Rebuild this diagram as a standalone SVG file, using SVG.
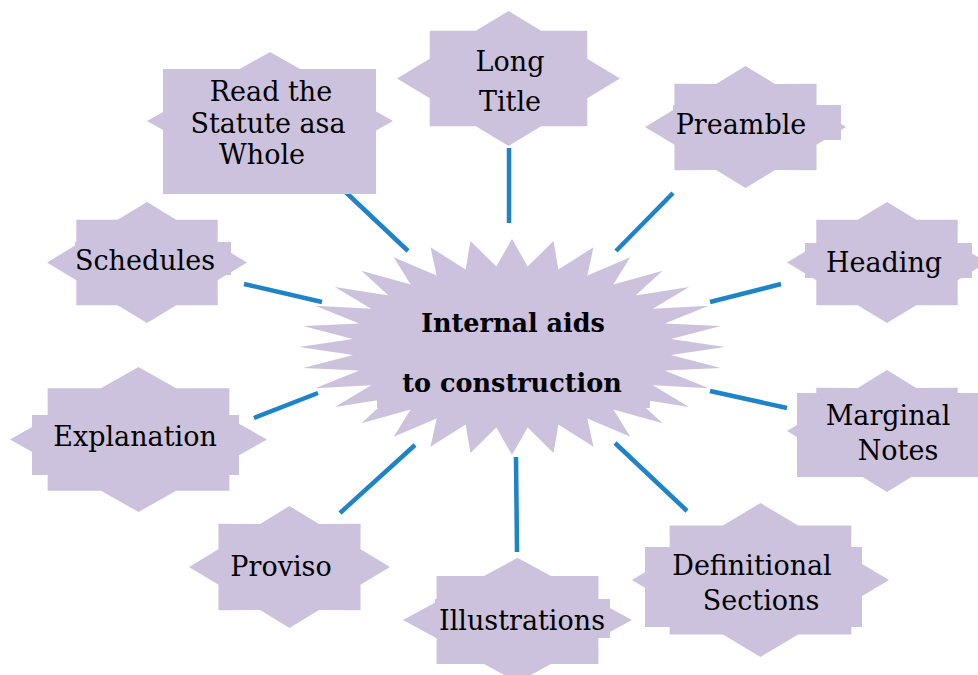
<svg xmlns="http://www.w3.org/2000/svg" width="978" height="675" viewBox="0 0 978 675">
<style>
.s{fill:#CCC2DE;stroke:none}
.t{font-family:"DejaVu Serif","Liberation Serif",serif;font-size:27px;fill:#000;text-anchor:middle}
.c{font-family:"DejaVu Serif","Liberation Serif",serif;font-size:25.5px;font-weight:bold;fill:#000;text-anchor:middle}
.l{stroke:#1F83C7;stroke-width:4.5;fill:none}
</style>
<defs>
<polygon id="star8" class="s" points="0,-100 29.275,-70.677 70.711,-70.711 70.677,-29.275 100,0 70.677,29.275 70.711,70.711 29.275,70.677 0,100 -29.275,70.677 -70.711,70.711 -70.677,29.275 -100,0 -70.677,-29.275 -70.711,-70.711 -29.275,-70.677"/>
</defs>
<rect width="978" height="675" fill="#fff"/>
<g id="connectors">
<line class="l" x1="336" y1="183" x2="408" y2="251"/>
<line class="l" x1="509" y1="148" x2="509" y2="223"/>
<line class="l" x1="673" y1="193" x2="616" y2="251"/>
<line class="l" x1="781" y1="284" x2="710" y2="302"/>
<line class="l" x1="710" y1="391" x2="787" y2="408"/>
<line class="l" x1="615" y1="443" x2="687" y2="511"/>
<line class="l" x1="516" y1="457" x2="517" y2="552"/>
<line class="l" x1="415" y1="445" x2="340" y2="513"/>
<line class="l" x1="318" y1="393" x2="254" y2="418"/>
<line class="l" x1="322" y1="302" x2="244" y2="284"/>
</g>
<g id="center">
<polygon class="s" points="512,239 527.66,266.39 553.55,241.07 558.37,269.49 593.51,247.22 587.31,275.56 630.34,257.2 613.34,284.39 662.61,270.63 635.49,295.61 689.1,287 652.89,308.82 708.79,305.67 664.87,323.49 720.91,325.93 670.98,339.06 725,347 670.98,354.94 720.91,368.07 664.87,370.51 708.79,388.33 652.89,385.18 689.1,407 635.49,398.39 662.61,423.37 613.34,409.61 630.34,436.8 587.31,418.44 593.51,446.78 558.37,424.51 553.55,452.93 527.66,427.61 512,455 496.34,427.61 470.45,452.93 465.63,424.51 430.49,446.78 436.69,418.44 393.66,436.8 410.66,409.61 361.39,423.37 388.51,398.39 334.9,407 371.11,385.18 315.21,388.33 359.13,370.51 303.09,368.07 353.02,354.94 299,347 353.02,339.06 303.09,325.93 359.13,323.49 315.21,305.67 371.11,308.82 334.9,287 388.51,295.61 361.39,270.63 410.66,284.39 393.66,257.2 436.69,275.56 430.49,247.22 465.63,269.49 470.45,241.07 496.34,266.39"/>
<rect class="s" x="377" y="310" width="273" height="98"/>
<text class="c" x="513" y="332">Internal aids</text>
<text class="c" x="512" y="392">to construction</text>
</g>
<g id="read-statute">
<use href="#star8" transform="translate(270,121) scale(1.23,0.69)"/>
<rect class="s" x="163" y="69" width="213" height="125"/>
<text class="t" x="271" y="101">Read the</text>
<text class="t" x="268" y="133">Statute asa</text>
<text class="t" x="262" y="164">Whole</text>
</g>
<g id="long-title">
<use href="#star8" transform="translate(508.5,78.5) scale(1.115,0.675)"/>
<text class="t" x="510" y="71">Long</text>
<text class="t" x="510" y="111">Title</text>
</g>
<g id="preamble">
<use href="#star8" transform="translate(745.5,127) scale(1.005,0.61)"/>
<rect class="s" x="673" y="105" width="168" height="35"/>
<text class="t" x="741" y="134">Preamble</text>
</g>
<g id="heading">
<use href="#star8" transform="translate(887,262.5) scale(1,0.605)"/>
<rect class="s" x="805" y="243" width="167" height="35"/>
<text class="t" x="884" y="272">Heading</text>
</g>
<g id="marginal-notes">
<use href="#star8" transform="translate(887,431) scale(1,0.61)"/>
<rect class="s" x="797" y="393" width="181" height="84"/>
<text class="t" x="888" y="425">Marginal</text>
<text class="t" x="898" y="460">Notes</text>
</g>
<g id="definitional-sections">
<use href="#star8" transform="translate(760.5,580) scale(1.285,0.77)"/>
<rect class="s" x="645" y="547" width="217" height="80"/>
<text class="t" x="752" y="575">Definitional</text>
<text class="t" x="761" y="610">Sections</text>
</g>
<g id="illustrations">
<use href="#star8" transform="translate(517.5,620) scale(1.145,0.622)"/>
<rect class="s" x="435" y="599" width="175" height="39"/>
<text class="t" x="522" y="630">Illustrations</text>
</g>
<g id="proviso">
<use href="#star8" transform="translate(289.5,567) scale(1.005,0.61)"/>
<text class="t" x="281" y="576">Proviso</text>
</g>
<g id="explanation">
<use href="#star8" transform="translate(138.5,439.5) scale(1.285,0.725)"/>
<rect class="s" x="32" y="415" width="207" height="60"/>
<text class="t" x="135" y="446">Explanation</text>
</g>
<g id="schedules">
<use href="#star8" transform="translate(147,262.5) scale(1,0.605)"/>
<rect class="s" x="75" y="242" width="156" height="33"/>
<text class="t" x="145" y="270">Schedules</text>
</g>
</svg>
